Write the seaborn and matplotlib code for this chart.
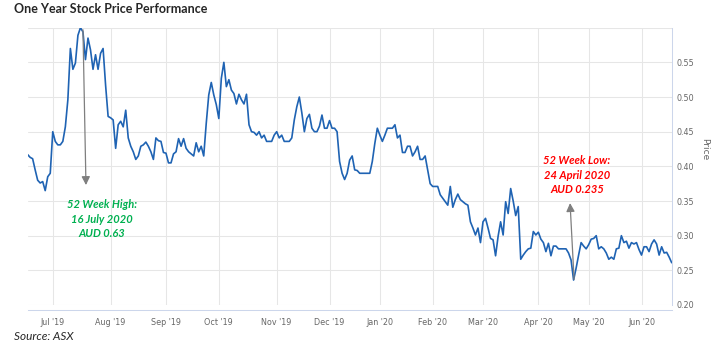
import numpy as np
import pandas as pd
import matplotlib
matplotlib.use('Agg')
import matplotlib.pyplot as plt
import seaborn as sns

# trading sessions counted from the first day shown
start = '2019-06-17'
holidays = ['2019-12-25', '2019-12-26', '2020-01-01', '2020-01-27',
            '2020-04-10', '2020-04-13', '2020-06-08']

# closing price per trading session
price = [
    0.417, 0.413, 0.411, 0.395, 0.380, 0.376, 0.378, 0.365, 0.385, 0.390,
    0.450, 0.436, 0.431, 0.431, 0.436, 0.457, 0.496, 0.570, 0.540, 0.549,
    0.589, 0.600, 0.594, 0.554, 0.585, 0.568, 0.540, 0.561, 0.540, 0.563,
    0.570, 0.517, 0.472, 0.470, 0.467, 0.426, 0.460, 0.465, 0.457, 0.481,
    0.441, 0.429, 0.421, 0.410, 0.415, 0.429, 0.431, 0.435, 0.429, 0.421,
    0.410, 0.441, 0.437, 0.436, 0.420, 0.419, 0.405, 0.405, 0.418, 0.421,
    0.440, 0.429, 0.440, 0.426, 0.421, 0.418, 0.415, 0.434, 0.421, 0.429,
    0.415, 0.462, 0.503, 0.521, 0.503, 0.489, 0.469, 0.527, 0.550, 0.515,
    0.525, 0.510, 0.505, 0.490, 0.504, 0.496, 0.490, 0.504, 0.460, 0.450,
    0.449, 0.445, 0.450, 0.441, 0.445, 0.436, 0.436, 0.436, 0.445, 0.450,
    0.441, 0.445, 0.436, 0.436, 0.436, 0.441, 0.467, 0.486, 0.500, 0.477,
    0.450, 0.469, 0.475, 0.455, 0.450, 0.450, 0.458, 0.474, 0.455, 0.455,
    0.466, 0.455, 0.455, 0.450, 0.407, 0.390, 0.381, 0.390, 0.409, 0.415,
    0.395, 0.394, 0.390, 0.390, 0.390, 0.390, 0.390, 0.407, 0.433, 0.455,
    0.445, 0.436, 0.445, 0.455, 0.455, 0.455, 0.460, 0.441, 0.445, 0.420,
    0.420, 0.429, 0.429, 0.415, 0.421, 0.429, 0.410, 0.410, 0.415, 0.395,
    0.375, 0.371, 0.371, 0.371, 0.359, 0.354, 0.349, 0.344, 0.371, 0.341,
    0.352, 0.360, 0.352, 0.349, 0.346, 0.344, 0.320, 0.311, 0.301, 0.311,
    0.290, 0.320, 0.325, 0.311, 0.296, 0.294, 0.271, 0.299, 0.320, 0.301,
    0.349, 0.332, 0.368, 0.350, 0.329, 0.342, 0.266, 0.272, 0.277, 0.281,
    0.282, 0.306, 0.301, 0.305, 0.295, 0.290, 0.277, 0.289, 0.271, 0.285,
    0.285, 0.281, 0.281, 0.281, 0.281, 0.275, 0.265, 0.236, 0.253, 0.272,
    0.290, 0.285, 0.281, 0.287, 0.295, 0.296, 0.300, 0.281, 0.284, 0.281,
    0.275, 0.266, 0.269, 0.266, 0.281, 0.282, 0.300, 0.290, 0.292, 0.282,
    0.290, 0.288, 0.290, 0.280, 0.272, 0.284, 0.284, 0.277, 0.288, 0.294,
    0.288, 0.272, 0.284, 0.275, 0.276, 0.269, 0.261,
]
day = np.arange(len(price))

month_starts = ['2019-07-01', '2019-08-01', '2019-09-01', '2019-10-01',
                '2019-11-01', '2019-12-01', '2020-01-01', '2020-02-01',
                '2020-03-01', '2020-04-01', '2020-05-01', '2020-06-01']
month_labels = ["Jul '19", "Aug '19", "Sep '19", "Oct '19", "Nov '19", "Dec '19",
                "Jan '20", "Feb '20", "Mar '20", "Apr '20", "May '20", "Jun '20"]
y_ticks = [0.20, 0.25, 0.30, 0.35, 0.40, 0.45, 0.50, 0.55, 0.60]

high_text = '52 Week High:\n16 July 2020\nAUD 0.63'
low_text = '52 Week Low:\n24 April 2020\nAUD 0.235'

df = pd.DataFrame({'day': day, 'price': price})

sns.set_style('white')
plt.rcParams['font.family'] = ['DejaVu Sans']

fig = plt.figure(figsize=(7.22, 3.56), dpi=100)
ax = fig.add_axes([27.6 / 722, 1 - 305 / 356, 644.1 / 722, 277.3 / 356])

sns.lineplot(data=df, x='day', y='price', ax=ax, color='#1f63b3', linewidth=1.2)

ax.set_xlim(0, len(price) - 1)
ax.set_ylim(0.20, 0.60)

month_pos = np.busday_count(start, month_starts, holidays=holidays)
ax.set_xticks(month_pos)
ax.set_xticklabels(month_labels)
ax.set_yticks(y_ticks)
ax.set_yticklabels([f'{v:.2f}' for v in y_ticks[:-1]] + [''])
plt.setp(ax.get_yticklabels(), va='bottom')
ax.yaxis.tick_right()
ax.set_xlabel('')
ax.set_ylabel('')

ax.grid(True, color='#e6e6e6', linewidth=0.75)
ax.set_axisbelow(True)
for s in ['left', 'top']:
    ax.spines[s].set_visible(False)
ax.spines['right'].set_color('#ccd6eb')
ax.spines['right'].set_linewidth(0.75)
ax.spines['bottom'].set_color('#ccd6eb')
ax.spines['bottom'].set_linewidth(0.75)
ax.spines['bottom'].set_position(('outward', 3.6))

ax.tick_params(axis='x', length=4, width=0.75, color='#ccd6eb', pad=1.5,
               labelsize=5.8, labelcolor='#666666')
ax.tick_params(axis='y', length=0, pad=3.6, labelsize=5.8, labelcolor='#666666')

# arrows + labels for the 52 week high / low
arrow = dict(arrowstyle='-|>,head_width=0.25,head_length=0.5', color='#7f7f7f',
             lw=0.9, shrinkA=0, shrinkB=0, mutation_scale=10)
ax.annotate('', xy=(23.2, 0.373), xytext=(22.0, 0.597), arrowprops=arrow)
ax.annotate('', xy=(215.6, 0.347), xytext=(217.2, 0.237), arrowprops=arrow)

ax.text(29.4, 0.324, high_text, ha='center', va='center', color='#00b050',
        fontsize=8, fontweight='bold', style='italic', family=['Lato'],
        linespacing=1.4)
ax.text(218.4, 0.387, low_text, ha='center', va='center', color='#ff0000',
        fontsize=8, fontweight='bold', style='italic', family=['Lato'],
        linespacing=1.4)

fig.text(705 / 722, 1 - 149 / 356, 'Price', rotation=270, ha='center', va='center',
         color='#666666', fontsize=6.5)
fig.text(14 / 722, 1 - 9 / 356, 'One Year Stock Price Performance', ha='left',
         va='center', fontsize=9, fontweight='bold', family=['Lato'])
fig.text(14 / 722, 1 - 336 / 356, 'Source: ASX', ha='left', va='center',
         fontsize=8.5, style='italic', family=['Lato'])

fig.savefig('out.png', dpi=100)
